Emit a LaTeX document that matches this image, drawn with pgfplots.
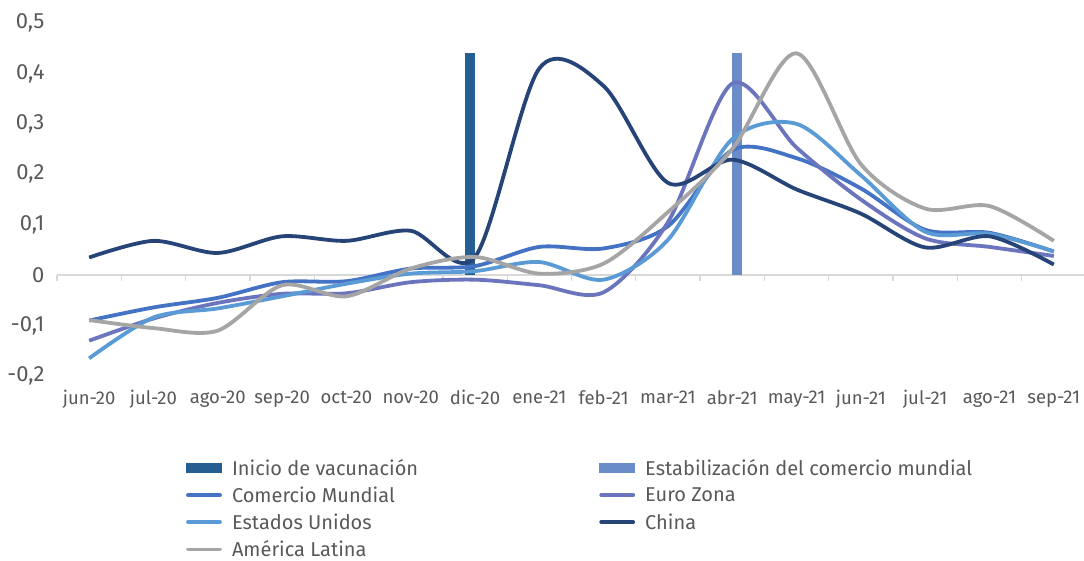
\documentclass[border=0pt]{standalone}
\usepackage{fontspec}
\setmainfont{Fira Sans}
\usepackage{pgfplots}
\pgfplotsset{compat=1.18}
\definecolor{vacuna}{HTML}{255E91}
\definecolor{estab}{HTML}{6A8CC8}
\definecolor{comercio}{HTML}{4472C4}
\definecolor{euro}{HTML}{6B75BE}
\definecolor{eeuu}{HTML}{5B9BD5}
\definecolor{china}{HTML}{264478}
\definecolor{latam}{HTML}{A5A5A5}
\definecolor{zeroline}{HTML}{D9D9D9}
\definecolor{txt}{HTML}{595959}
\pgfplotsset{
  serie/.style={#1, line width=3.8pt, smooth, tension=0.5, mark=none,
    legend image code/.code={\draw[#1, line width=3.8pt, line cap=round] (2pt,0pt) -- (34pt,0pt);}},
  barra/.style={ybar, bar width=10pt, fill=#1, draw=none,
    legend image code/.code={\fill[#1] (0pt,-5pt) rectangle (36pt,5pt);}}
}
\begin{document}
\begin{tikzpicture}
\useasboundingbox (-57pt,-185pt) rectangle (1027pt,376pt);
\begin{axis}[
  at={(0pt,0pt)}, anchor=south west,
  scale only axis, width=1027pt, height=353pt,
  xmin=-0.5, xmax=15.47, ymin=-0.2, ymax=0.5,
  axis line style={draw=none}, tick style={draw=none},
  major tick length=0pt,
  xtick={0,...,15},
  xticklabels={jun-20,jul-20,ago-20,sep-20,oct-20,nov-20,dic-20,ene-21,feb-21,mar-21,abr-21,may-21,jun-21,jul-21,ago-21,sep-21},
  ytick={-0.2,-0.1,0,0.1,0.2,0.3,0.4,0.5},
  /pgf/number format/.cd, assume math mode=true, use comma, fixed, precision=1, /pgfplots/.cd,
  yticklabel style={font=\fontsize{22}{22}\selectfont, text=txt, anchor=east, xshift=-9pt},
  xticklabel style={font=\fontsize{18.5}{18.5}\selectfont, text=txt, anchor=north, yshift=-11pt},
  clip=false,
  legend columns=2,
  legend style={at={(129pt,-81pt)}, anchor=north west, draw=none, fill=none,
    font=\fontsize{20}{20}\selectfont, text=txt, inner sep=0pt, outer sep=0pt,
    row sep=6pt,
    /tikz/every odd column/.append style={column sep=8pt},
    /tikz/every even column/.append style={column sep=179pt}},
  legend cell align=left,
]
\draw[zeroline, line width=1.3pt] (axis cs:-0.5,0) -- (axis cs:15.47,0);
\pgfplotsinvokeforeach{-0.5,0.5,1.5,2.5,3.5,4.5,5.5,6.5,7.5,8.5,9.5,10.5,11.5,12.5,13.5,14.5}{
  \draw[zeroline, line width=1.3pt] (axis cs:#1,0) -- ++(0pt,-6pt);
}
\addplot[barra=vacuna, bar shift=-5pt] coordinates {(6,0.44)};
\addlegendentry{Inicio de vacunación}
\addplot[barra=estab, bar shift=5pt] coordinates {(10,0.44)};
\addlegendentry{Estabilización del comercio mundial}
\addplot[serie=comercio] coordinates {(0,-0.09) (1,-0.064) (2,-0.045) (3,-0.014) (4,-0.012) (5,0.013) (6,0.018) (7,0.056) (8,0.053) (9,0.097) (10,0.248) (11,0.232) (12,0.172) (13,0.09) (14,0.084) (15,0.047)};
\addlegendentry{Comercio Mundial}
\addplot[serie=euro] coordinates {(0,-0.13) (1,-0.086) (2,-0.055) (3,-0.037) (4,-0.036) (5,-0.014) (6,-0.009) (7,-0.02) (8,-0.034) (9,0.105) (10,0.38) (11,0.253) (12,0.15) (13,0.073) (14,0.056) (15,0.038)};
\addlegendentry{Euro Zona}
\addplot[serie=eeuu] coordinates {(0,-0.165) (1,-0.084) (2,-0.066) (3,-0.042) (4,-0.017) (5,0.003) (6,0.008) (7,0.026) (8,-0.009) (9,0.07) (10,0.27) (11,0.30) (12,0.198) (13,0.086) (14,0.082) (15,0.047)};
\addlegendentry{Estados Unidos}
\addplot[serie=china] coordinates {(0,0.035) (1,0.068) (2,0.044) (3,0.077) (4,0.068) (5,0.088) (6,0.036) (7,0.41) (8,0.375) (9,0.183) (10,0.229) (11,0.17) (12,0.122) (13,0.055) (14,0.077) (15,0.021)};
\addlegendentry{China}
\addplot[serie=latam] coordinates {(0,-0.089) (1,-0.105) (2,-0.11) (3,-0.02) (4,-0.042) (5,0.013) (6,0.036) (7,0.003) (8,0.023) (9,0.125) (10,0.25) (11,0.44) (12,0.22) (13,0.132) (14,0.137) (15,0.068)};
\addlegendentry{América Latina}
\end{axis}
\end{tikzpicture}
\end{document}
